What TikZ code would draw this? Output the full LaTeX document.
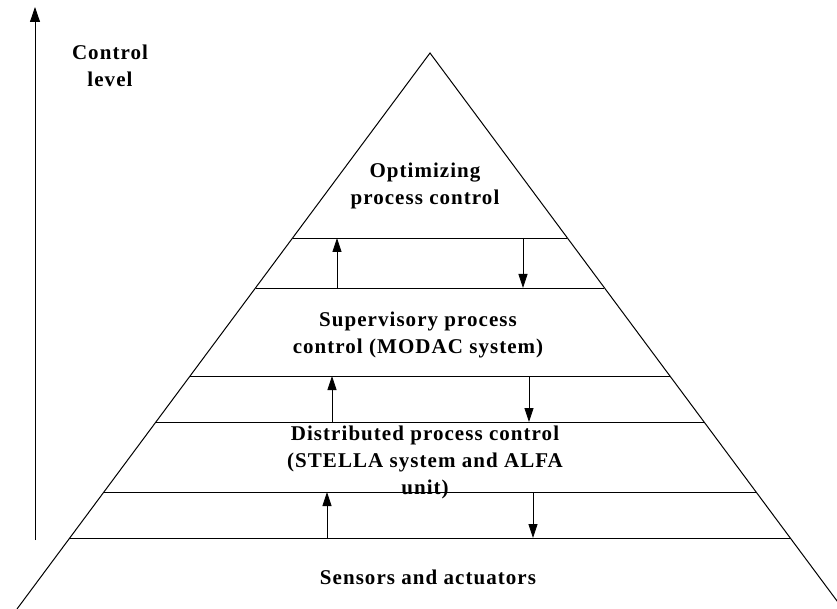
\documentclass[tikz,border=0pt]{standalone}
\usepackage{fontspec}
\setmainfont{Liberation Serif}
\newfontfamily\levelfont{Liberation Serif}[LetterSpace=5]
\usetikzlibrary{arrows.meta}

\begin{document}
\begin{tikzpicture}[x=1pt, y=-1pt, thick]
        % Define block styles
        \tikzstyle{level} = [align=center, anchor=base, inner sep=0pt, font=\levelfont\bfseries\fontsize{21}{27}\selectfont]
        \tikzstyle{flow} = [-{Triangle[length=14pt, width=9pt]}, line width=0.8pt]

        \clip (0,0) rectangle (837,609);

        % Draw the pyramid
        \coordinate (apex) at (430,53);
        \draw [line width=1pt] (17,609) -- (apex) -- (843,609);
        \foreach \ya in {238,288,376,422,492,538}
            \draw [line width=0.8pt] ({430-0.742*(\ya-53)},\ya) -- ({430+0.742*(\ya-53)},\ya);

        % Place nodes (anchored at the baseline of their last line)
        \node [level] (optimizing) at (425,205) {Optimizing\\process control};
        \node [level] (supervisory) at (418,353) {Supervisory process\\control (MODAC system)};
        \node [level] (distributed) at (425,494) {Distributed process control\\(STELLA system and ALFA\\unit)};
        \node [level] (sensors) at (428,584) {Sensors and actuators};
        \node [level] (control) at (110,87) {Control\\level};

        % Draw arrows between the levels
        \foreach \ya/\yb/\xu/\xd in {238/288/337/523, 376/422/332/529, 492/538/327/533} {
            \draw [flow] (\xu,\yb) -- (\xu,\ya);
            \draw [flow] (\xd,\ya) -- (\xd,\yb);
        }

        % Control level axis
        \coordinate (axis_low) at (35,540);
        \coordinate (axis_high) at (35,7);
        \draw [flow, -{Triangle[length=15pt, width=10pt]}] (axis_low) -- (axis_high);
    \end{tikzpicture}
\end{document}
